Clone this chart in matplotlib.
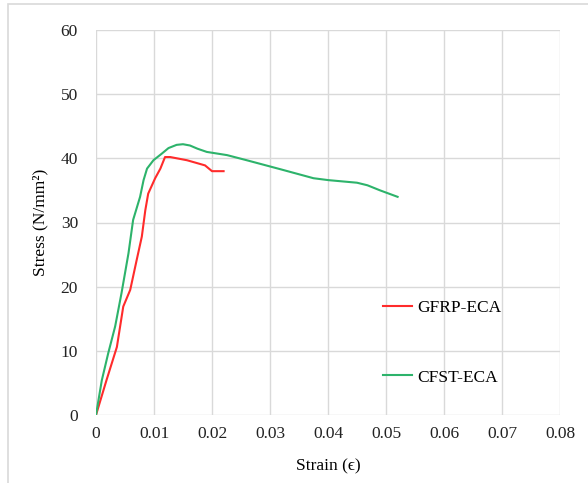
import numpy as np
import matplotlib.pyplot as plt
from matplotlib.patches import Rectangle

gfrp_strain = [0, 0.0018, 0.0036, 0.0047, 0.0059, 0.0070, 0.0079, 0.0085, 0.0090,
               0.0102, 0.0111, 0.0119, 0.0128, 0.0157, 0.0188, 0.0200, 0.0220]
gfrp_stress = [0, 5.4, 10.6, 16.9, 19.5, 24.1, 27.8, 31.9, 34.5,
               36.9, 38.4, 40.2, 40.2, 39.7, 38.9, 38.0, 38.0]

cfst_strain = [0, 0.0010, 0.0021, 0.0033, 0.0044, 0.0056, 0.0064, 0.0076, 0.0082,
               0.0088, 0.0099, 0.0113, 0.0125, 0.0139, 0.0150, 0.0162, 0.0175,
               0.0191, 0.0226, 0.0260, 0.0318, 0.0375, 0.0401, 0.0450, 0.0468,
               0.0490, 0.0520]
cfst_stress = [0, 5.4, 9.6, 13.8, 19.0, 25.2, 30.4, 34.0, 36.6,
               38.4, 39.7, 40.7, 41.6, 42.1, 42.2, 42.0, 41.5,
               41.0, 40.5, 39.7, 38.3, 36.9, 36.6, 36.2, 35.8,
               35.0, 34.0]

x_ticks = [0, 0.01, 0.02, 0.03, 0.04, 0.05, 0.06, 0.07, 0.08]
x_labels = ['0', '0.01', '0.02', '0.03', '0.04', '0.05', '0.06', '0.07', '0.08']
y_ticks = [0, 10, 20, 30, 40, 50, 60]

plt.rcParams['font.family'] = ['Liberation Serif', 'DejaVu Serif']

fig = plt.figure(figsize=(5.88, 4.83), dpi=100)
fig.patches.append(Rectangle((8 / 588, -0.1), 1.2, 1 - 4 / 483 + 0.1,
                             transform=fig.transFigure, fill=False,
                             edgecolor='#D9D9D9', linewidth=1.2))
ax = fig.add_axes([96 / 588, 1 - 415 / 483, 464 / 588, 385 / 483])

ax.plot(gfrp_strain, gfrp_stress, color='#FF2B2B', lw=1.5, label='GFRP-ECA',
        solid_joinstyle='round')
ax.plot(cfst_strain, cfst_stress, color='#2DB36B', lw=1.5, label='CFST-ECA',
        solid_joinstyle='round')

ax.set_xlim(0, 0.08)
ax.set_ylim(0, 60)
ax.set_xticks(x_ticks)
ax.set_xticklabels(x_labels)
ax.set_yticks(y_ticks)
ax.tick_params(length=0, labelsize=12.5, colors='#222222')
ax.tick_params(axis='y', pad=13)
ax.tick_params(axis='x', pad=8)
ax.grid(True, color='#D9D9D9', lw=1)
ax.set_axisbelow(True)
for s in ax.spines.values():
    s.set_visible(False)

ax.set_xlabel('Strain (ϵ)', fontsize=12.5, labelpad=12)
ax.set_ylabel('Stress (N/mm²)', fontsize=12.5, labelpad=9)

ax.legend(loc='upper left', bbox_to_anchor=(0.618, 0.298), frameon=False,
          fontsize=12.5, labelspacing=3.05, handlelength=1.7, handletextpad=0.3,
          borderpad=0, borderaxespad=0)

fig.savefig('out.png', dpi=100)
